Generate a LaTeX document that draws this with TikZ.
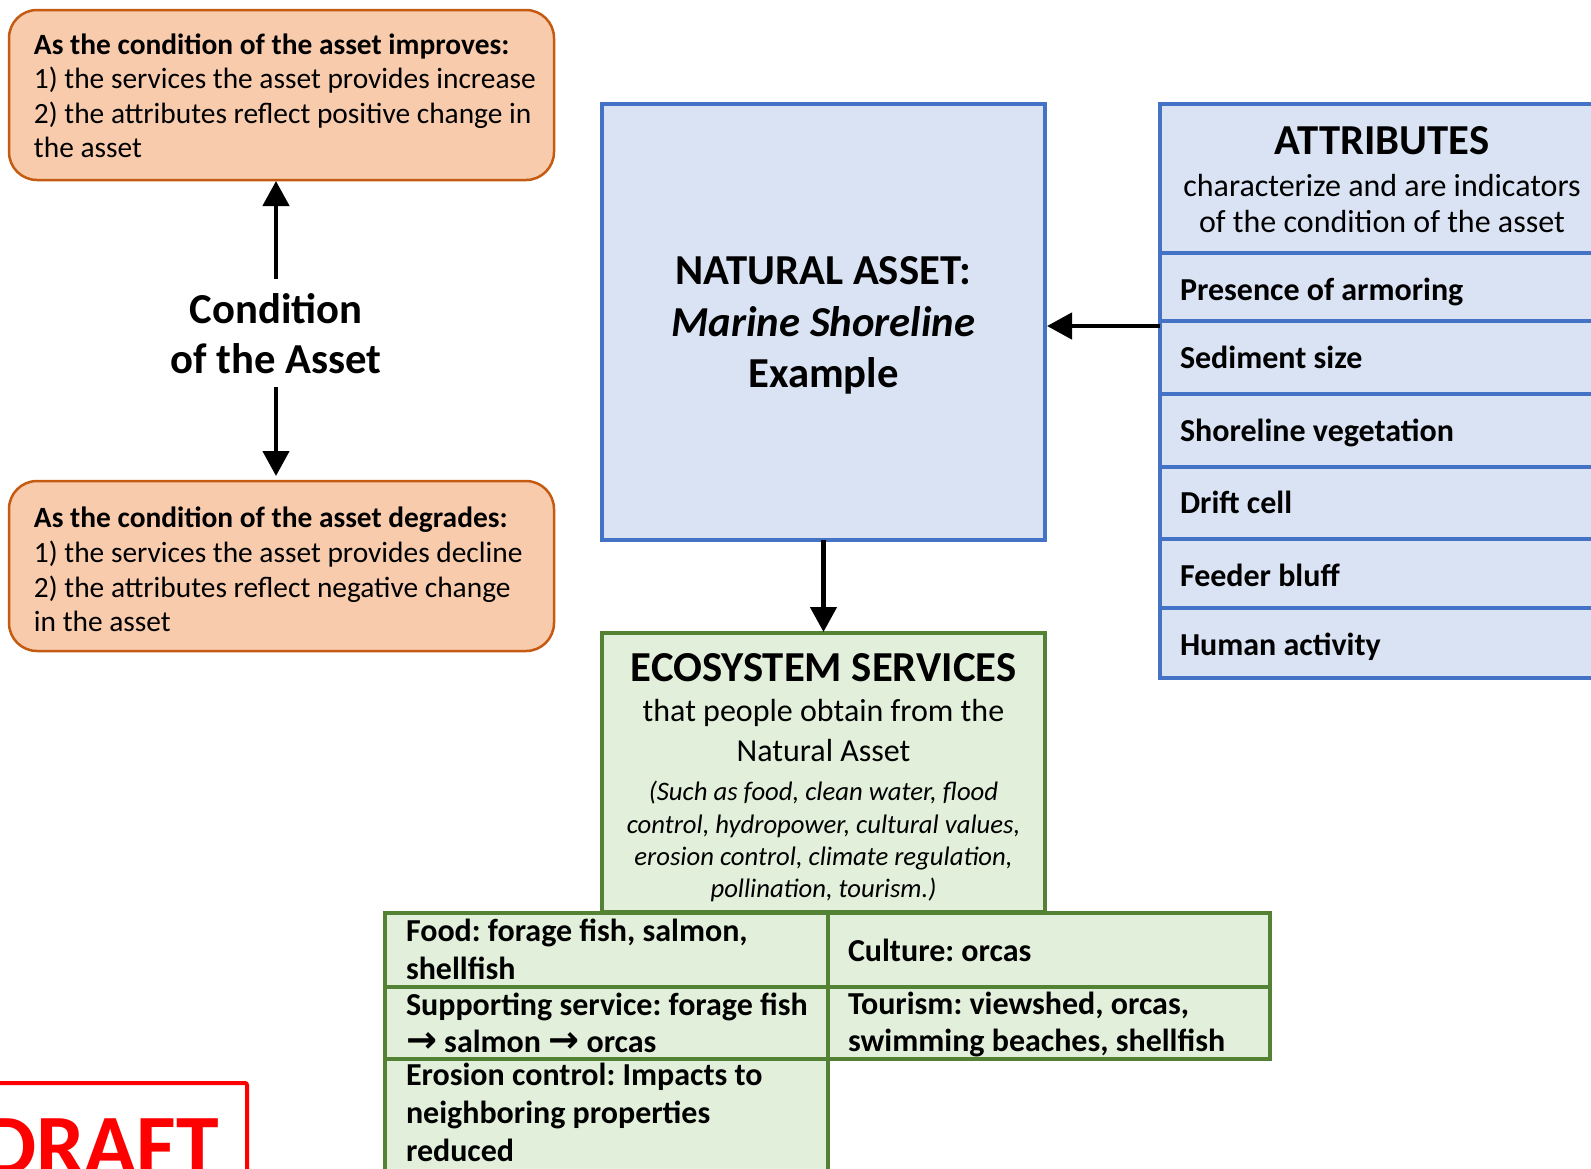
\documentclass[tikz,border=0pt]{standalone}
\usepackage{fontspec}
\setmainfont{Carlito}
\newfontfamily\djv{DejaVu Sans}
\usetikzlibrary{arrows.meta}
\definecolor{orfill}{HTML}{F8CBAD}
\definecolor{ordraw}{HTML}{C55A11}
\definecolor{blfill}{HTML}{DAE3F3}
\definecolor{bldraw}{HTML}{4472C4}
\definecolor{grfill}{HTML}{E2EFDA}
\definecolor{grdraw}{HTML}{548235}
\definecolor{draftred}{HTML}{FF0000}
\frenchspacing
\begin{document}
\begin{tikzpicture}[x=1pt,y=-1pt,
  every node/.style={inner sep=0pt,outer sep=0pt},
  obox/.style={rectangle,draw=ordraw,fill=orfill,line width=2.5pt,rounded corners=28pt},
  bbox/.style={rectangle,draw=bldraw,fill=blfill,line width=4.5pt},
  gbox/.style={rectangle,draw=grdraw,fill=grfill,line width=4.5pt},
  arr/.style={line width=4.5pt,-{Triangle[length=25pt,width=26pt]}},
  lt/.style={anchor=base west,font=\fontsize{29.4}{34}\selectfont},
  ltb/.style={anchor=base west,font=\fontsize{29.4}{34}\selectfont\bfseries},
  head/.style={anchor=base,font=\fontsize{42.7}{50}\selectfont\bfseries},
  sub/.style={anchor=base,font=\fontsize{32}{38}\selectfont},
  ital/.style={anchor=base,font=\fontsize{26.7}{32}\selectfont\itshape},
  item/.style={anchor=base west,font=\fontsize{32}{38}\selectfont\bfseries},
  gitem/.style={anchor=base west,font=\fontsize{32}{38}\selectfont\bfseries}
]
\frenchspacing
\useasboundingbox (0,0) rectangle (1591,1168);
\clip (0,0) rectangle (1591,1168);
\fill[white] (0,0) rectangle (1591,1168);

% orange boxes
\node[obox,minimum width=545pt,minimum height=170pt] (topbox) at (281.5,95) {};
\node[ltb] (t1) at (34,54) {As the condition of the asset improves:};
\node[lt] (t2) at (34,88.5) {1) the services the asset provides increase};
\node[lt] (t3) at (34,123) {2) the attributes reflect positive change in};
\node[lt] (t4) at (34,157) {the asset};

\node[obox,minimum width=545pt,minimum height=170pt] (botbox) at (281.5,566) {};
\node[ltb] (b1) at (34,527) {As the condition of the asset degrades:};
\node[lt] (b2) at (34,562) {1) the services the asset provides decline};
\node[lt] (b3) at (34,597) {2) the attributes reflect negative change};
\node[lt] (b4) at (34,631) {in the asset};

% condition label and arrows
\node[head] (c1) at (276,323) {Condition};
\node[head] (c2) at (276,373) {of the Asset};
\coordinate (ua) at (276,279);
\coordinate (da) at (276,387);
\draw[arr,shorten >=1pt] (ua) -- (ua |- topbox.south);
\draw[arr,shorten >=5pt] (da) -- (da |- botbox.north);

% natural asset
\node[bbox,minimum width=443pt,minimum height=436pt] (nat) at (823.5,322) {};
\node[head] (n1) at (823.5,284) {NATURAL ASSET:};
\node[head,font=\fontsize{42.7}{50}\selectfont\bfseries\itshape] (n2) at (823.5,336.5) {Marine Shoreline};
\node[head] (n3) at (823.5,387) {Example};

% attributes
\node[bbox,minimum width=460pt,minimum height=149pt] (ah) at (1390,178.5) {};
\node[bbox,minimum width=460pt,minimum height=68pt] (a1) at (1390,287) {};
\node[bbox,minimum width=460pt,minimum height=73pt] (a2) at (1390,357.5) {};
\node[bbox,minimum width=460pt,minimum height=73pt] (a3) at (1390,430.5) {};
\node[bbox,minimum width=460pt,minimum height=72pt] (a4) at (1390,503) {};
\node[bbox,minimum width=460pt,minimum height=69pt] (a5) at (1390,573.5) {};
\node[bbox,minimum width=460pt,minimum height=70pt] (a6) at (1390,643) {};
\node[head] (ah1) at (1382,154) {ATTRIBUTES};
\node[sub] (ah2) at (1382,196) {characterize and are indicators};
\node[sub] (ah3) at (1382,232.5) {of the condition of the asset};
\node[item] (a1t) at (1180,300.7) {Presence of armoring};
\node[item] (a2t) at (1180,368.3) {Sediment size};
\node[item] (a3t) at (1180,441.7) {Shoreline vegetation};
\node[item] (a4t) at (1180,513.3) {Drift cell};
\node[item] (a5t) at (1180,586.7) {Feeder bluff};
\node[item] (a6t) at (1180,655) {Human activity};
\coordinate (aa) at (1160,326);
\draw[arr,shorten >=2pt] (aa) -- (aa -| nat.east);

% ecosystem services
\node[gbox,minimum width=443pt,minimum height=279pt] (eco) at (823.5,772.5) {};
\draw[arr,shorten >=1pt] (nat.south) -- (eco.north);
\node[head] (e1) at (823.5,681.7) {ECOSYSTEM SERVICES};
\node[sub] (e2) at (823.5,721.7) {that people obtain from the};
\node[sub] (e3) at (823.5,761.7) {Natural Asset};
\node[ital] (e4) at (823.5,800) {(Such as food, clean water, flood};
\node[ital] (e5) at (823.5,833) {control, hydropower, cultural values,};
\node[ital] (e6) at (823.5,865) {erosion control, climate regulation,};
\node[ital] (e7) at (823.5,897) {pollination, tourism.)};

% grid of services
\node[gbox,minimum width=443pt,minimum height=74pt] (g1) at (606.5,950) {};
\node[gbox,minimum width=443pt,minimum height=72pt] (g2) at (606.5,1023) {};
\node[gbox,minimum width=443pt,minimum height=131pt] (g3) at (606.5,1124.5) {};
\node[gbox,minimum width=442pt,minimum height=74pt] (g4) at (1049,950) {};
\node[gbox,minimum width=442pt,minimum height=72pt] (g5) at (1049,1023) {};
\node[gitem] (g1a) at (406,941.7) {Food: forage fish, salmon,};
\node[gitem] (g1b) at (406,979.3) {shellfish};
\node[gitem] (g2a) at (406,1015) {Supporting service: forage fish};
\node[gitem] (g2b) at (406,1052.7) {{\djv\bfseries\fontsize{37}{38}\selectfont →} salmon {\djv\bfseries\fontsize{37}{38}\selectfont →} orcas};
\node[gitem] (g3a) at (406,1085) {Erosion control: Impacts to};
\node[gitem] (g3b) at (406,1123.3) {neighboring properties};
\node[gitem] (g3c) at (406,1161.7) {reduced};
\node[gitem] (g4a) at (848,961.7) {Culture: orcas};
\node[gitem] (g5a) at (848,1014.3) {Tourism: viewshed, orcas,};
\node[gitem] (g5b) at (848,1051.7) {swimming beaches, shellfish};

% draft stamp
\draw[draftred,line width=4pt,rounded corners=2pt] (-20,1200) -- (-20,1083) -- (247,1083) -- (247,1200);
\node[anchor=base east,text=draftred,font=\fontsize{86}{86}\selectfont\bfseries] (draft) at (219,1174) {DRAFT};
\end{tikzpicture}
\end{document}
